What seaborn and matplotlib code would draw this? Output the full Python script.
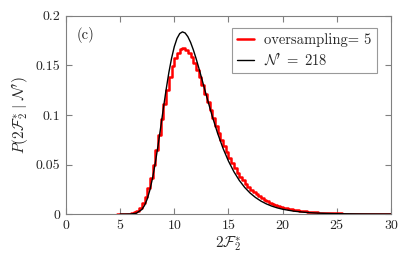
import numpy as np
import pandas as pd
import matplotlib
matplotlib.use("Agg")
import matplotlib.pyplot as plt
import seaborn as sns

# histogram (oversampling = 5), bins of width 0.25 from 4.75 to 30
bin_edges = list(np.arange(4.75, 30.0001, 0.25))
hist_heights = [
    0.000002, 0.000008, 0.00003, 0.0001, 0.0003, 0.00074, 0.00166, 0.00337, 0.00626, 0.01075,
    0.01721, 0.02586, 0.03674, 0.04971, 0.06431, 0.07991, 0.09582, 0.1113, 0.1257, 0.1385,
    0.1492, 0.1573, 0.1630, 0.1663, 0.1672, 0.1660, 0.1629, 0.1582, 0.1523, 0.1454,
    0.1379, 0.1299, 0.1216, 0.1133, 0.1051, 0.0970, 0.0893, 0.0819, 0.0749, 0.0683,
    0.0622, 0.0564, 0.0511, 0.0463, 0.0418, 0.0378, 0.0340, 0.0306, 0.0276, 0.0248,
    0.0222, 0.0200, 0.0179, 0.0161, 0.0144, 0.0129, 0.0115, 0.0103, 0.00925, 0.00827,
    0.00740, 0.00661, 0.00591, 0.00529, 0.00472, 0.00422, 0.00377, 0.00337, 0.00301, 0.00269,
    0.00241, 0.00215, 0.00192, 0.00172, 0.00153, 0.00137, 0.00122, 0.00109, 0.00097, 0.00087,
    0.00078, 0.00069, 0.00062, 0.00055, 0.00049, 0.00044, 0.00039, 0.00035, 0.00031, 0.00028,
    0.00025, 0.00022, 0.00020, 0.00018, 0.00016, 0.00014, 0.00013, 0.00011, 0.00010, 0.00009,
    0.00008,
]
bin_centers = [(a + b) / 2 for a, b in zip(bin_edges[:-1], bin_edges[1:])]

# N' = 218 curve
curve_x = [5.0, 5.5, 6.0, 6.5, 7.0, 7.25, 7.5, 7.75, 8.0, 8.25, 8.5, 8.75, 9.0, 9.25, 9.5, 9.75,
           10.0, 10.25, 10.5, 10.75, 11.0, 11.25, 11.5, 11.75, 12.0, 12.25, 12.5, 12.75, 13.0,
           13.5, 14.0, 14.5, 15.0, 15.5, 16.0, 16.5, 17.0, 17.5, 18.0, 18.5, 19.0, 19.5, 20.0,
           21.0, 22.0, 23.0, 24.0, 25.0, 26.0, 27.0, 28.0, 29.0, 30.0]
curve_y = [0.0000002, 0.000006, 0.000104, 0.000899, 0.004545, 0.00868, 0.01518, 0.02447, 0.03677,
           0.0519, 0.06931, 0.0881, 0.1074, 0.1260, 0.1430, 0.1574, 0.1690, 0.1773, 0.1822, 0.1839,
           0.1828, 0.1791, 0.1734, 0.1660, 0.1574, 0.1480, 0.1382, 0.1281, 0.1181, 0.0989, 0.0815,
           0.0663, 0.0535, 0.0428, 0.0340, 0.0269, 0.0212, 0.0167, 0.0131, 0.01027, 0.00803,
           0.00628, 0.00490, 0.0030, 0.00182, 0.0011, 0.00067, 0.00041, 0.00025, 0.00015,
           0.00009, 0.00006, 0.00003]

x_ticks = [0, 5, 10, 15, 20, 25, 30]
y_ticks = [0, 0.05, 0.1, 0.15, 0.2]
y_tick_labels = ["0", "0.05", "0.1", "0.15", "0.2"]

sns.set_style("ticks")
plt.rcParams["font.family"] = ["cmr10", "DejaVu Serif"]
plt.rcParams["mathtext.fontset"] = "cm"
plt.rcParams["axes.formatter.use_mathtext"] = True

fig = plt.figure(figsize=(4.15, 2.57), dpi=100)
ax = fig.add_axes([0.159, 0.167, 0.783, 0.771])

hist_df = pd.DataFrame({"x": bin_centers, "w": hist_heights})
sns.histplot(data=hist_df, x="x", weights="w", bins=bin_edges, element="step", fill=False,
             color="red", linewidth=1.8, ax=ax, label="oversampling= 5", zorder=3)
sns.lineplot(x=curve_x, y=curve_y, color="black", linewidth=1.0, ax=ax,
             label=r"$\mathcal{N}'\;=\;218$", zorder=4)

ax.set_xlim(0, 30)
ax.set_ylim(0, 0.2)
ax.set_xticks(x_ticks)
ax.set_xticklabels([str(t) for t in x_ticks])
ax.set_yticks(y_ticks)
ax.set_yticklabels(y_tick_labels)
ax.tick_params(direction="in", top=True, right=True, length=4, width=0.8,
               color="#808080", labelsize=10, pad=4)
for s in ax.spines.values():
    s.set_color("#808080")
    s.set_linewidth(0.8)

ax.set_xlabel(r"$2\mathcal{F}_2^{*}$", fontsize=11, labelpad=2)
ax.set_ylabel(r"$P(2\mathcal{F}_2^{*}\ |\ \mathcal{N}')$", fontsize=11, labelpad=4)
ax.text(0.034, 0.905, "(c)", transform=ax.transAxes, fontsize=10.5, va="center")

leg = ax.legend(loc="upper right", bbox_to_anchor=(0.957, 0.939), borderaxespad=0,
                fontsize=10.5, fancybox=False, frameon=True, handlelength=1.2,
                handletextpad=0.7, borderpad=0.35, labelspacing=0.3)
leg.get_frame().set_edgecolor("#808080")
leg.get_frame().set_linewidth(0.8)

fig.savefig("out.png", dpi=100)
